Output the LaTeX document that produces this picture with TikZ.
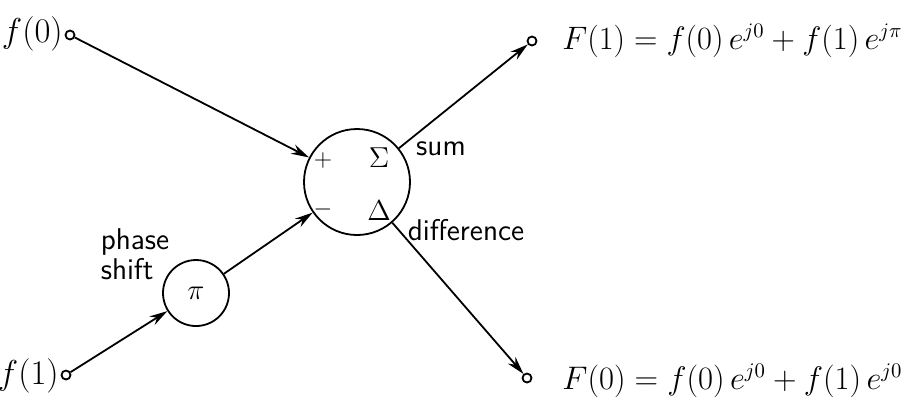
\documentclass[tikz,border=0pt]{standalone}
\usetikzlibrary{arrows.meta}
\begin{document}
\begin{tikzpicture}[x=0.5pt,y=-0.5pt,
  wire/.style={line width=0.9pt,-{Stealth[length=9pt,width=5pt]}},
  port/.style={circle,draw,line width=0.9pt,minimum size=4.5pt,inner sep=0pt},
  bigc/.style={circle,draw,line width=0.9pt,minimum size=53pt,inner sep=0pt},
  smallc/.style={circle,draw,line width=0.9pt,minimum size=33pt,inner sep=0pt},
  lbl/.style={font=\fontsize{16}{18}\selectfont,inner sep=0pt},
  sym/.style={font=\fontsize{15}{17}\selectfont,inner sep=0pt},
  pm/.style={font=\fontsize{12}{14}\selectfont,inner sep=0pt},
  eq/.style={font=\fontsize{16}{20}\selectfont,inner sep=0pt,anchor=west},
  sm/.style={font=\sffamily\fontsize{15}{15}\selectfont,inner sep=0pt}]
\useasboundingbox (0,0) rectangle (908,404);
% nodes
\node[port] (p0) at (70,35) {};
\node[port] (p1) at (66,375) {};
\node[bigc] (big) at (357,182) {};
\node[smallc] (ph) at (196,293) {};
\node[port] (o1) at (532,41) {};
\node[port] (o2) at (527,378) {};
% input labels
\node[lbl,anchor=east] (t0) at (63,34) {$f(0)$};
\node[lbl,anchor=east] (t1) at (59,376) {$f(1)$};
% circle contents
\node[pm] (plus) at (323,160) {$+$};
\node[sym] (sig) at (379,158) {$\Sigma$};
\node[pm] (minus) at (323,209) {$-$};
\node[sym] (del) at (379,211) {$\Delta$};
\node[font=\fontsize{15}{17}\selectfont] (pi) at (196,293) {$\pi$};
% text labels
\node[sm] (sum) at (441,149) {sum};
\node[sm] (diff) at (466,230) {difference};
\node[sm,align=left] (pshift) at (135,254) {phase\\shift};
% connectors
\draw[wire] (p0) -- (big);
\draw[wire] (p1) -- (ph);
\draw[wire] (ph) -- (big);
\draw[wire] (big) -- (o1);
\draw[wire] (big) -- (o2);
% equations
\node[eq] (e1) at (562,41) {\resizebox{170pt}{!}{$F(1) = f(0)\,e^{j0} + f(1)\,e^{j\pi}$}};
\node[eq] (e2) at (562,381) {\resizebox{170pt}{!}{$F(0) = f(0)\,e^{j0} + f(1)\,e^{j0}$}};
\end{tikzpicture}
\end{document}
